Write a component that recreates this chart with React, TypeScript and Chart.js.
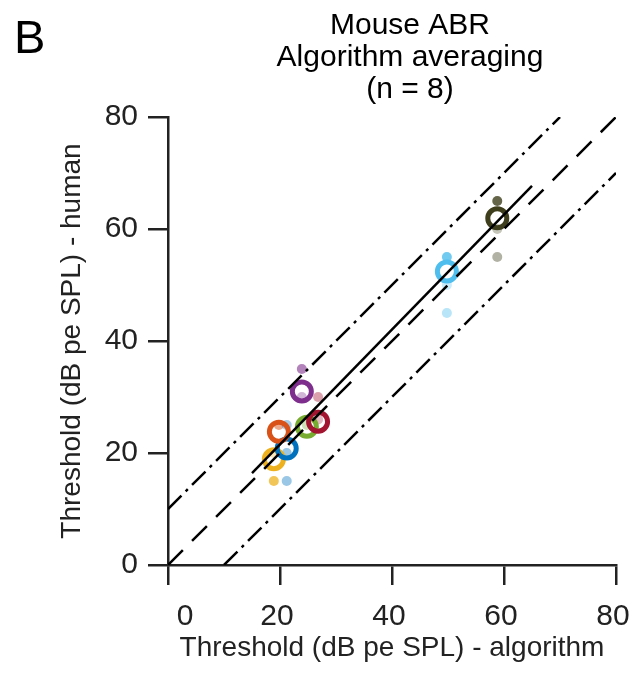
import React, { useEffect, useRef } from 'react';
import { Chart, registerables } from 'chart.js';

Chart.register(...registerables);

// ---- data ----
const titleLines = ['Mouse ABR', 'Algorithm averaging', '(n = 8)'];
const panelLabel = 'B';
const xTitle = 'Threshold (dB pe SPL) - algorithm';
const yTitle = 'Threshold (dB pe SPL) - human';
const xTickValues = [0, 20, 40, 60, 80];

// mean threshold per mouse (algorithm on x, human on y)
const meanAlgorithm = [18.9, 21.2, 19.8, 24.8, 26.8, 23.9, 49.8, 58.8];
const meanHuman = [18.9, 20.8, 23.8, 24.7, 25.6, 31.0, 52.4, 61.9];

// individual human thresholds per mouse
const individualHuman = [
  [15, 20],
  [15, 20, 25],
  [25],
  [25],
  [30, 26],
  [35, 30],
  [55, 50, 45],
  [65, 60, 55],
];

// reference lines
const upperX = [0, 70];
const upperY = [10, 80];
const identityX = [0, 80];
const identityY = [0, 80];
const lowerX = [10, 80];
const lowerY = [0, 70];
const fitX = [15, 65];
const fitY = [16.4, 67.7];

// ---- styles ----
const mouseColors = ['#EDB120', '#0072BD', '#D95319', '#77AC30', '#A2142F', '#7E2F8E', '#4DBEEE', '#3E3E1C'];
const individualOpacity = [
  [0.75, 0.3],
  [0.4, 0.4, 0.35],
  [0.5],
  [0.35],
  [0.4, 0.3],
  [0.6, 0.35],
  [0.8, 0.3, 0.4],
  [0.8, 0.3, 0.4],
];

const FONT = 'Arial, "Liberation Sans", Helvetica, sans-serif';

function rgba(hex: string, a: number) {
  const n = parseInt(hex.slice(1), 16);
  return `rgba(${(n >> 16) & 255},${(n >> 8) & 255},${n & 255},${a})`;
}

function pts(xs: number[], ys: number[]) {
  return xs.map((x, i) => ({ x, y: ys[i] }));
}

export default function App() {
  const ref = useRef<HTMLCanvasElement>(null);

  useEffect(() => {
    const canvas = ref.current;
    if (!canvas) return;

    const lineStyle = (dash: number[]) => ({
      type: 'line' as const,
      borderColor: '#000',
      borderWidth: 2.5,
      borderDash: dash,
      pointRadius: 0,
      fill: false,
      tension: 0,
      showLine: true,
      order: 0,
    });

    const datasets: any[] = [
      { ...lineStyle([19, 6, 3, 6]), data: pts(upperX, upperY) },
      { ...lineStyle([21, 13]), data: pts(identityX, identityY) },
      { ...lineStyle([19, 6, 3, 6]), data: pts(lowerX, lowerY) },
      { ...lineStyle([]), data: pts(fitX, fitY) },
    ];

    // mean circles
    datasets.push({
      type: 'scatter',
      data: pts(meanAlgorithm, meanHuman),
      pointRadius: 9.5,
      pointBorderWidth: 5,
      pointBackgroundColor: 'rgba(0,0,0,0)',
      pointBorderColor: mouseColors,
      order: 1,
    });

    // individual dots
    individualHuman.forEach((vals, i) => {
      datasets.push({
        type: 'scatter',
        data: vals.map((v) => ({ x: meanAlgorithm[i], y: v })),
        pointRadius: 5,
        pointBorderWidth: 0,
        pointBackgroundColor: vals.map((_, j) => rgba(mouseColors[i], individualOpacity[i][j])),
        pointBorderColor: 'rgba(0,0,0,0)',
        order: 2,
      });
    });

    const textPlugin = {
      id: 'texts',
      afterDraw(chart: any) {
        const ctx = chart.ctx;
        ctx.save();
        ctx.fillStyle = '#000';
        ctx.textAlign = 'center';
        ctx.textBaseline = 'alphabetic';
        ctx.font = `30px ${FONT}`;
        titleLines.forEach((t, i) => ctx.fillText(t, 410, 34 + i * 32));

        ctx.textAlign = 'left';
        ctx.font = `47px ${FONT}`;
        ctx.fillText(panelLabel, 14, 53);

        const xs = chart.scales.x;
        ctx.fillStyle = '#222';
        ctx.textAlign = 'center';
        ctx.font = `30px ${FONT}`;
        xTickValues.forEach((v) => {
          const px = xs.getPixelForValue(v) + (v === 0 ? 17 : -3);
          ctx.fillText(String(v), px, 625);
        });
        ctx.restore();
      },
    };

    const chart = new Chart(canvas, {
      type: 'scatter',
      data: { datasets },
      options: {
        animation: false,
        responsive: false,
        maintainAspectRatio: false,
        layout: { padding: { left: 0, right: 20, top: 117, bottom: 0 } },
        plugins: {
          legend: { display: false },
          tooltip: { enabled: false },
          title: { display: false },
        },
        scales: {
          x: {
            type: 'linear',
            position: 'bottom',
            min: 0,
            max: 80,
            ticks: { display: false, stepSize: 20 },
            grid: { drawOnChartArea: false, drawTicks: true, tickLength: 20, color: '#222', lineWidth: 2.5 },
            border: { display: true, color: '#222', width: 2.5 },
            title: {
              display: true,
              text: xTitle,
              color: '#222',
              font: { family: FONT, size: 28 },
              padding: { top: 0, bottom: 12 },
            },
            afterFit: (s: any) => {
              s.height = 112;
            },
          },
          y: {
            type: 'linear',
            position: 'left',
            min: 0,
            max: 80,
            ticks: { stepSize: 20, color: '#222', font: { family: FONT, size: 30 }, padding: 10 },
            grid: { drawOnChartArea: false, drawTicks: true, tickLength: 20, color: '#222', lineWidth: 2.5 },
            border: { display: true, color: '#222', width: 2.5 },
            title: {
              display: true,
              text: yTitle,
              color: '#222',
              font: { family: FONT, size: 28 },
              padding: { top: 55, bottom: 0 },
            },
            afterFit: (s: any) => {
              s.width = 168;
            },
          },
        },
      } as any,
      plugins: [textPlugin],
    });

    return () => chart.destroy();
  }, []);

  return (
    <div style={{ position: 'absolute', left: 0, top: 0, width: 636, height: 677, background: '#fff' }}>
      <canvas ref={ref} width={636} height={677} style={{ display: 'block', width: 636, height: 677 }} />
    </div>
  );
}
